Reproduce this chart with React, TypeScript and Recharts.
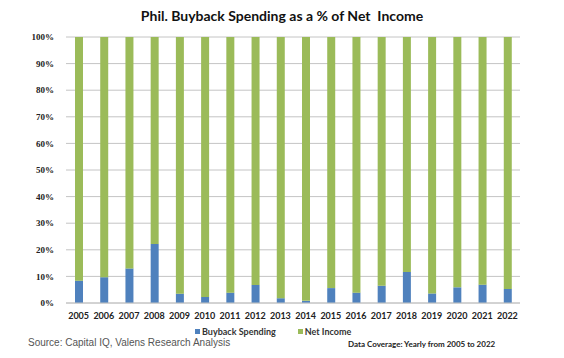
import React from 'react';
import { BarChart, Bar, XAxis, YAxis, CartesianGrid } from 'recharts';

const years = ['2005', '2006', '2007', '2008', '2009', '2010', '2011', '2012', '2013', '2014', '2015', '2016', '2017', '2018', '2019', '2020', '2021', '2022'];
// buyback spending as share of net income (%)
const buybackPct = [8.4, 9.7, 13.0, 22.2, 3.5, 2.3, 3.9, 6.8, 1.8, 0.8, 5.6, 3.9, 6.5, 11.7, 3.6, 5.9, 6.9, 5.3];
const yTicks = [0, 10, 20, 30, 40, 50, 60, 70, 80, 90, 100];

const data = years.map((y, i) => ({
  year: y,
  buyback: buybackPct[i],
  netIncome: 100 - buybackPct[i],
}));

const BLUE = '#4F81BD';
const GREEN = '#9BBB59';

export default function App() {
  return (
    <div style={{ position: 'absolute', left: 0, top: 0, width: 564, height: 358, background: '#fff' }}>
      <div style={{ position: 'absolute', top: 7, width: 564, textAlign: 'center', fontFamily: 'Lato, sans-serif', fontWeight: 'bold', fontSize: 14, color: '#111' }}>
        Phil. Buyback Spending as a % of Net&nbsp; Income
      </div>
      <BarChart width={564} height={358} data={data} margin={{ top: 37, right: 44, left: 0, bottom: 35 }}>
        <CartesianGrid vertical={false} stroke="#c4c4c4" />
        <XAxis dataKey="year" axisLine={{ stroke: '#c4c4c4' }} tickLine={false} height={20}
          tick={{ fontSize: 9, fontWeight: 'bold', fill: '#222', fontFamily: 'Lato, sans-serif' }} interval={0} tickMargin={4} />
        <YAxis width={66} domain={[0, 100]} ticks={yTicks} axisLine={false} tickLine={false}
          tickFormatter={(v: number) => `${v}%`}
          tick={{ fontSize: 9, fontWeight: 'bold', fill: '#222', fontFamily: '"Liberation Serif", serif' }} tickMargin={6} />
        <Bar dataKey="buyback" name="Buyback Spending" stackId="a" fill={BLUE} barSize={8} isAnimationActive={false} />
        <Bar dataKey="netIncome" name="Net Income" stackId="a" fill={GREEN} barSize={8} isAnimationActive={false} />
      </BarChart>
      <div style={{ position: 'absolute', top: 326, left: 195, display: 'flex', fontFamily: 'Lato, sans-serif', fontSize: 9, fontWeight: 'bold', color: '#333' }}>
        <span style={{ display: 'flex', alignItems: 'center', marginRight: 22 }}>
          <span style={{ width: 5, height: 5, background: BLUE, marginRight: 2 }} />
          Buyback Spending
        </span>
        <span style={{ display: 'flex', alignItems: 'center' }}>
          <span style={{ width: 5, height: 5, background: GREEN, marginRight: 2 }} />
          Net Income
        </span>
      </div>
      <div style={{ position: 'absolute', left: 28, top: 337, fontFamily: '"Liberation Sans", Arial, sans-serif', fontSize: 10, color: '#555' }}>
        Source: Capital IQ, Valens Research Analysis
      </div>
      <div style={{ position: 'absolute', left: 348, top: 339, fontFamily: 'Lato, sans-serif', fontWeight: 'bold', fontSize: 8, color: '#222' }}>
        Data Coverage: Yearly from 2005 to 2022
      </div>
    </div>
  );
}
